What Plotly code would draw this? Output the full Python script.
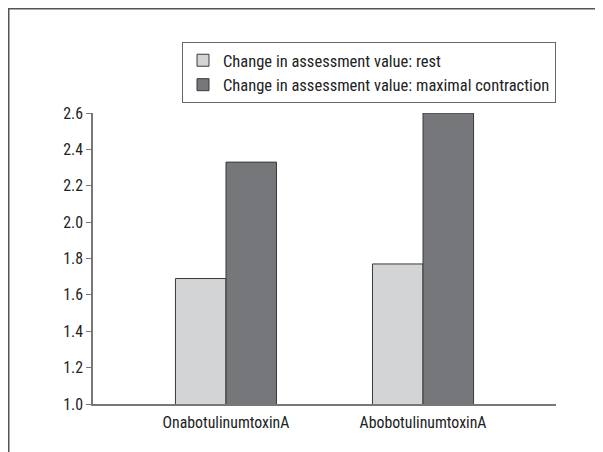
import plotly.graph_objects as go

categories = ["OnabotulinumtoxinA", "AbobotulinumtoxinA"]
rest_values = [1.69, 1.77]
max_values = [2.33, 2.60]
series_names = ["Change in assessment value: rest",
                "Change in assessment value: maximal contraction"]
y_ticks = [1.0, 1.2, 1.4, 1.6, 1.8, 2.0, 2.2, 2.4, 2.6]

FONT = "Roboto Condensed, Liberation Sans Narrow, Arial Narrow, Liberation Sans, sans-serif"

W, H = 603, 452
L, R, T, B = 85, 55, 105, 56
pw, ph = W - L - R, H - T - B

fig = go.Figure()
fig.add_trace(go.Bar(x=categories, y=rest_values, name=series_names[0],
                     marker=dict(color="#d3d4d6", line=dict(color="#3a3a3a", width=1))))
fig.add_trace(go.Bar(x=categories, y=max_values, name=series_names[1],
                     marker=dict(color="#76777b", line=dict(color="#3a3a3a", width=1))))

fig.update_layout(
    width=W, height=H,
    margin=dict(l=L, r=R, t=T, b=B),
    paper_bgcolor="white", plot_bgcolor="white",
    barmode="group", bargap=0.487, bargroupgap=0,
    font=dict(family=FONT, size=15.5, color="#222"),
    showlegend=True,
    legend=dict(x=(174 - L) / pw, y=1 + (T - 34) / ph, xanchor="left", yanchor="top",
                bordercolor="#666", borderwidth=1, bgcolor="white",
                font=dict(family=FONT, size=16.5, color="#222"),
                itemwidth=30, tracegroupgap=0),
    xaxis=dict(range=[-0.675, 1.675], showline=True, linecolor="#777", linewidth=1.5,
               ticks="", showgrid=False, zeroline=False, ticklabelstandoff=3,
               tickfont=dict(family=FONT, size=15.8, color="#222")),
    yaxis=dict(range=[1.0, 2.6], tickvals=y_ticks, ticktext=[f"{v:.1f}" for v in y_ticks],
               showline=True, linecolor="#777", linewidth=1.5,
               ticks="outside", ticklen=5, tickcolor="#777", tickwidth=1,
               showgrid=False, zeroline=False,
               tickfont=dict(family=FONT, size=15.8, color="#222")),
    shapes=[dict(type="rect", xref="paper", yref="paper",
                 x0=(-L + 0.75) / pw, y0=-0.5, x1=1.3, y1=1 + (T - 0.75) / ph,
                 line=dict(color="#555", width=1.5), fillcolor="rgba(0,0,0,0)", layer="below")],
)

fig.write_html("out.html")
